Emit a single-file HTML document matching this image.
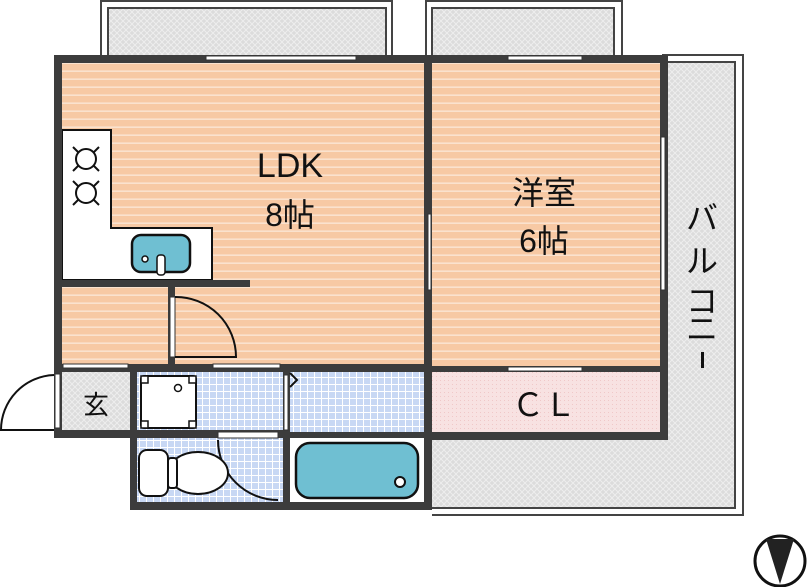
<!DOCTYPE html>
<html><head><meta charset="utf-8"><style>
body{margin:0;background:#fff}
svg{display:block}
text{font-family:"Liberation Sans","Noto Sans CJK JP",sans-serif;fill:#111}
</style></head><body>
<svg width="807" height="587" viewBox="0 0 807 587" xmlns="http://www.w3.org/2000/svg">
<defs>
<pattern id="wood" width="8" height="8" patternUnits="userSpaceOnUse">
<rect width="8" height="8" fill="#f7c9a4"/><rect y="6.5" width="8" height="1.3" fill="#fbe8d8"/></pattern>
<pattern id="hatch" width="6" height="6" patternUnits="userSpaceOnUse">
<rect width="6" height="6" fill="#dcdcdc"/><path d="M0 0L6 6M6 0L0 6" stroke="#eeeeee" stroke-width="1"/></pattern>
<pattern id="tile" width="7" height="7" patternUnits="userSpaceOnUse">
<rect width="7" height="7" fill="#c8d8f4"/><path d="M0 6.5H7M6.5 0V7" stroke="#fff" stroke-width="1"/></pattern>
<pattern id="pink" width="4" height="4" patternUnits="userSpaceOnUse">
<rect width="4" height="4" fill="#f8e2e2"/><rect width="1" height="1" fill="#f0c8c8"/></pattern>
</defs>
<!-- top balconies -->
<rect x="101" y="1" width="291" height="60" fill="#fff" stroke="#444" stroke-width="2"/>
<rect x="108" y="8" width="278" height="50" fill="url(#hatch)" stroke="#444" stroke-width="2"/>
<rect x="426" y="1" width="196" height="60" fill="#fff" stroke="#444" stroke-width="2"/>
<rect x="432" y="8" width="182" height="50" fill="url(#hatch)" stroke="#444" stroke-width="2"/>
<!-- right balcony -->
<path d="M662 55H743V515H432" fill="#fff" stroke="#444" stroke-width="2"/>
<rect x="432" y="62" width="303" height="446" fill="url(#hatch)"/>
<path d="M668 62H735V508H432" fill="none" stroke="#444" stroke-width="2"/>
<!-- rooms -->
<rect x="62" y="62" width="366" height="304" fill="url(#wood)"/>
<rect x="432" y="62" width="228" height="306" fill="url(#wood)"/>
<rect x="432" y="372" width="228" height="60" fill="url(#pink)"/>
<rect x="62" y="372" width="70" height="60" fill="url(#hatch)"/>
<rect x="136" y="372" width="290" height="60" fill="url(#tile)"/>
<rect x="136" y="438" width="150" height="66" fill="url(#tile)"/>
<rect x="290" y="438" width="134" height="64" fill="#fff"/>
<!-- kitchen -->
<path d="M62 130H111V228H212V280H62Z" fill="#fff" stroke="#111" stroke-width="2"/>
<g fill="none" stroke="#111" stroke-width="2">
<circle cx="86" cy="159" r="10"/><circle cx="86" cy="193" r="10"/>
<path d="M73 147l5 5M99 147l-5 5M73 171l5-5M99 171l-5-5M73 181l5 5M99 181l-5 5M73 205l5-5M99 205l-5-5"/>
</g>
<rect x="132" y="235" width="58" height="37" rx="9" fill="#6fbfd2" stroke="#111" stroke-width="2.5"/>
<circle cx="145" cy="259" r="3" fill="#fff" stroke="#111" stroke-width="1.5"/>
<rect x="157" y="255" width="8" height="20" rx="3" fill="#fff" stroke="#111" stroke-width="1.5"/>
<!-- walls -->
<g fill="#3c3c3c">
<rect x="54" y="55" width="614" height="8"/>
<rect x="54" y="55" width="8" height="315"/>
<rect x="424" y="55" width="8" height="455"/>
<rect x="660" y="55" width="8" height="385"/>
<rect x="432" y="432" width="236" height="8"/>
<rect x="54" y="280" width="196" height="7"/>
<rect x="54" y="364" width="378" height="8"/>
<rect x="54" y="364" width="8" height="74"/>
<rect x="54" y="430" width="232" height="8"/>
<rect x="130" y="372" width="7" height="138"/>
<rect x="130" y="502" width="302" height="8"/>
<rect x="283" y="372" width="7" height="138"/>
<rect x="290" y="432" width="136" height="6"/>
<rect x="168" y="287" width="7" height="77"/>
<rect x="432" y="366" width="228" height="6"/>
</g>
<!-- windows -->
<g fill="#fff" stroke="#333" stroke-width="1">
<rect x="206" y="56" width="150" height="4"/>
<rect x="508" y="56" width="74" height="4"/>
<rect x="428" y="214" width="3" height="76"/>
<rect x="661" y="137" width="4" height="153"/>
<rect x="63" y="364" width="65" height="4"/>
<rect x="213" y="364" width="67" height="4"/>
<rect x="508" y="367" width="74" height="4"/>
<rect x="55" y="374" width="5" height="54"/>
<rect x="170" y="297" width="5" height="60"/>
<rect x="218" y="432" width="60" height="6"/>
<rect x="284" y="375" width="4" height="55"/>
</g>
<!-- doors -->
<g fill="none" stroke="#111" stroke-width="2">
<path d="M175 297A60 60 0 0 1 236 357H175"/>
<path d="M54 375A55 55 0 0 0 1 430H54"/>
<path d="M218 440A60 60 0 0 0 278 500"/>
<path d="M290 373l7 7l-7 7"/>
</g>
<!-- washing machine -->
<rect x="141" y="376" width="55" height="52" rx="3" fill="#fff" stroke="#111" stroke-width="2"/>
<g fill="#fff" stroke="#111" stroke-width="1.5">
<rect x="141" y="376" width="7" height="7"/><rect x="189" y="376" width="7" height="7"/>
<rect x="141" y="421" width="7" height="7"/><rect x="189" y="421" width="7" height="7"/>
<circle cx="178" cy="388" r="3.5"/>
</g>
<!-- toilet -->
<g fill="#fff" stroke="#111" stroke-width="2">
<ellipse cx="198" cy="473" rx="30" ry="21"/>
<rect x="168" y="458" width="9" height="30" rx="3"/>
<rect x="139" y="450" width="29" height="46" rx="8"/>
</g>
<!-- bathtub -->
<rect x="296" y="443" width="122" height="55" rx="14" fill="#6fbfd2" stroke="#111" stroke-width="2.5"/>
<circle cx="400" cy="482" r="5" fill="#fff" stroke="#111" stroke-width="2"/>
<!-- labels -->
<text x="290" y="177" font-size="34" text-anchor="middle">LDK</text>
<text x="290" y="226" font-size="32" text-anchor="middle">8帖</text>
<text x="544" y="204" font-size="32" text-anchor="middle">洋室</text>
<text x="544" y="252" font-size="32" text-anchor="middle">6帖</text>
<text x="544" y="416" font-size="32" text-anchor="middle">ＣＬ</text>
<text x="96" y="414" font-size="26" text-anchor="middle">玄</text>
<g font-size="32" text-anchor="middle"><text x="702" y="229">バ</text><text x="702" y="272">ル</text><text x="702" y="312">コ</text><text x="702" y="340">ニ</text></g>
<rect x="701" y="352" width="3" height="16" fill="#111"/>
<!-- compass -->
<circle cx="780" cy="561" r="25" fill="#fff" stroke="#111" stroke-width="3"/>
<path d="M766 539H794L780 584Z" fill="#222"/>
</svg>
</body></html>
